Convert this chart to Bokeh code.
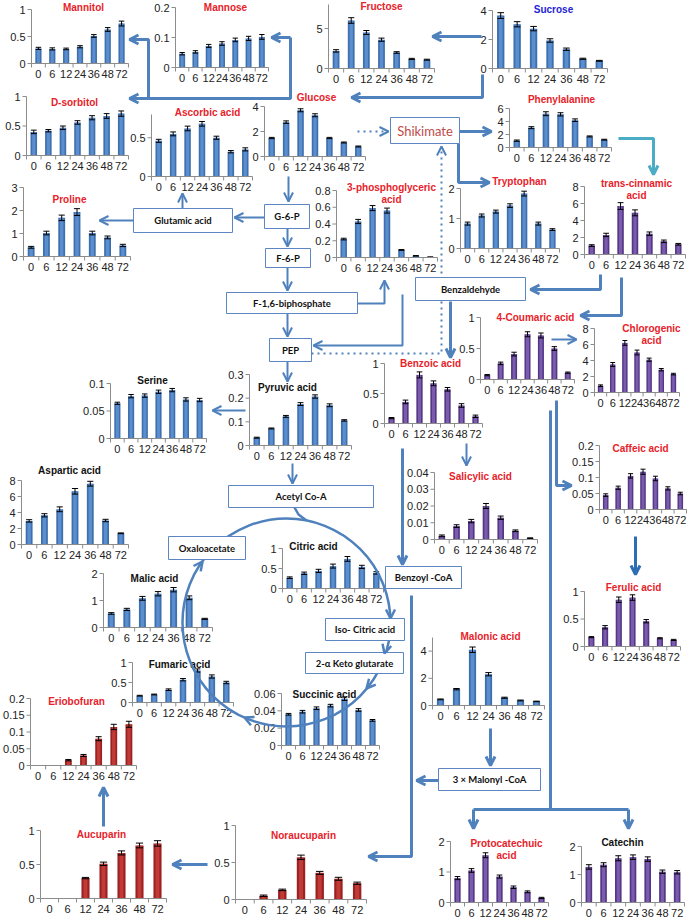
from bokeh.plotting import figure
from bokeh.models import Range1d, Arrow, OpenHead
from bokeh.embed import file_html
from bokeh.resources import INLINE
from bokeh.core.properties import value

# ---------------- data ----------------
times = ["0", "6", "12", "24", "36", "48", "72"]

mannitol = [0.28, 0.27, 0.27, 0.31, 0.51, 0.63, 0.74]
mannitol_err = [0.02, 0.02, 0.015, 0.02, 0.025, 0.035, 0.045]
mannose = [0.046, 0.052, 0.072, 0.080, 0.092, 0.097, 0.102]
mannose_err = [0.004, 0.004, 0.005, 0.006, 0.006, 0.007, 0.008]
fructose = [2.2, 6.0, 4.5, 3.6, 2.0, 1.2, 1.1]
fructose_err = [0.15, 0.35, 0.25, 0.2, 0.1, 0.07, 0.06]
sucrose = [3.65, 3.05, 2.75, 1.93, 1.33, 0.67, 0.53]
sucrose_err = [0.2, 0.18, 0.15, 0.12, 0.08, 0.04, 0.03]
sorbitol = [0.40, 0.42, 0.47, 0.56, 0.64, 0.67, 0.71]
sorbitol_err = [0.03, 0.02, 0.03, 0.03, 0.035, 0.04, 0.045]
ascorbic = [0.46, 0.55, 0.62, 0.68, 0.50, 0.32, 0.35]
ascorbic_err = [0.02, 0.025, 0.03, 0.03, 0.02, 0.015, 0.02]
glucose = [1.48, 2.75, 3.7, 3.3, 1.48, 1.12, 0.8]
glucose_err = [0.05, 0.1, 0.12, 0.12, 0.05, 0.04, 0.04]
phenylalanine = [1.05, 3.05, 5.2, 5.1, 4.2, 1.7, 1.2]
phenylalanine_err = [0.1, 0.15, 0.3, 0.25, 0.2, 0.08, 0.07]
proline = [0.40, 1.02, 1.68, 1.93, 1.02, 0.83, 0.48]
proline_err = [0.04, 0.08, 0.12, 0.15, 0.08, 0.06, 0.05]
pga = [0.22, 0.43, 0.59, 0.56, 0.09, 0.02, 0.005]
pga_err = [0.01, 0.025, 0.03, 0.03, 0.005, 0.003, 0.002]
tryptophan = [0.83, 1.1, 1.23, 1.43, 1.83, 0.83, 0.63]
tryptophan_err = [0.05, 0.05, 0.05, 0.06, 0.08, 0.05, 0.03]
cinnamic = [1.05, 2.3, 5.7, 4.9, 2.45, 1.55, 1.2]
cinnamic_err = [0.1, 0.2, 0.4, 0.35, 0.2, 0.15, 0.1]
serine = [0.064, 0.077, 0.078, 0.085, 0.088, 0.071, 0.070]
serine_err = [0.002, 0.003, 0.003, 0.003, 0.003, 0.003, 0.003]
pyruvic = [0.033, 0.072, 0.123, 0.175, 0.207, 0.170, 0.106]
pyruvic_err = [0.002, 0.002, 0.004, 0.006, 0.007, 0.006, 0.003]
benzoic = [0.09, 0.36, 0.81, 0.67, 0.57, 0.30, 0.12]
benzoic_err = [0.01, 0.03, 0.05, 0.04, 0.03, 0.03, 0.02]
coumaric = [0.07, 0.26, 0.41, 0.73, 0.71, 0.50, 0.11]
coumaric_err = [0.01, 0.02, 0.03, 0.04, 0.04, 0.03, 0.01]
chlorogenic = [0.85, 3.5, 6.2, 5.0, 4.1, 2.85, 2.3]
chlorogenic_err = [0.1, 0.25, 0.3, 0.3, 0.2, 0.15, 0.1]
salicylic = [0.0022, 0.008, 0.011, 0.020, 0.013, 0.0052, 0.0008]
salicylic_err = [0.0005, 0.0008, 0.001, 0.0015, 0.001, 0.0005, 0.0002]
caffeic = [0.045, 0.068, 0.105, 0.118, 0.097, 0.066, 0.050]
caffeic_err = [0.004, 0.005, 0.007, 0.008, 0.007, 0.005, 0.004]
ferulic = [0.17, 0.35, 0.85, 0.89, 0.46, 0.15, 0.12]
ferulic_err = [0.01, 0.03, 0.05, 0.05, 0.03, 0.01, 0.01]
aspartic = [2.95, 3.65, 4.4, 6.65, 7.6, 3.0, 1.4]
aspartic_err = [0.15, 0.2, 0.3, 0.35, 0.3, 0.15, 0.05]
malic = [0.52, 0.67, 1.08, 1.25, 1.40, 1.10, 0.32]
malic_err = [0.03, 0.04, 0.07, 0.08, 0.08, 0.07, 0.02]
citric = [0.27, 0.38, 0.44, 0.56, 0.74, 0.54, 0.39]
citric_err = [0.02, 0.03, 0.04, 0.05, 0.06, 0.04, 0.03]
fumaric = [0.17, 0.20, 0.32, 0.57, 0.80, 0.65, 0.50]
fumaric_err = [0.01, 0.01, 0.02, 0.03, 0.04, 0.04, 0.03]
succinic = [0.036, 0.039, 0.043, 0.046, 0.054, 0.041, 0.029]
succinic_err = [0.001, 0.0015, 0.0015, 0.0015, 0.002, 0.0015, 0.001]
malonic = [0.45, 1.2, 4.1, 2.3, 0.57, 0.37, 0.3]
malonic_err = [0.03, 0.05, 0.2, 0.12, 0.04, 0.03, 0.02]
eriobofuran = [0, 0, 0.016, 0.030, 0.080, 0.115, 0.123]
eriobofuran_err = [0, 0, 0.002, 0.003, 0.006, 0.008, 0.009]
aucuparin = [0, 0, 0.30, 0.51, 0.67, 0.78, 0.81]
aucuparin_err = [0, 0, 0.01, 0.025, 0.03, 0.035, 0.04]
noraucuparin = [0, 0.05, 0.13, 0.57, 0.36, 0.28, 0.22]
noraucuparin_err = [0, 0.01, 0.01, 0.03, 0.02, 0.02, 0.015]
protocatechuic = [0.80, 1.05, 1.55, 0.85, 0.50, 0.35, 0.15]
protocatechuic_err = [0.05, 0.06, 0.08, 0.05, 0.04, 0.03, 0.02]
catechin = [1.27, 1.35, 1.58, 1.62, 1.55, 1.10, 1.08]
catechin_err = [0.08, 0.07, 0.09, 0.08, 0.08, 0.06, 0.06]

# ---------------- styles ----------------
BLUE = ("#3F70AE", "#5B8ECF")
PURPLE = ("#553785", "#7A5CAE")
DRED = ("#9A2222", "#C23A36")
RED_T = "#E8222A"
BLUE_T = "#2424D6"
BLACK_T = "#111111"
AXIS = "#8C8C8C"
ARROW = "#4F81BD"
TEAL = "#4BACC6"
DBLUE = "#2E6DB4"
BOX = "#5B86C1"
FONT = value("Liberation Sans")
BFONT = value("Lato")
TICK_SIZE = "11px"

# layout of each mini chart (reference pixel coordinates)
# (title, title colour, bar colours, values, errors, ymax, ticks, x0, x1, ybase, ytop, title_x, title_y)
CHARTS = [
    ("Mannitol", RED_T, BLUE, mannitol, mannitol_err, 1, ["0", "0.5", "1"], 31, 128, 63, 9, 83, 7),
    ("Mannose", RED_T, BLUE, mannose, mannose_err, 0.2, ["0", "0.1", "0.2"], 175, 268, 67, 7, 225, 7),
    ("Fructose", RED_T, BLUE, fructose, fructose_err, 8, ["0", "5"], 328, 434, 68, 4, 381, 6),
    ("Sucrose", BLUE_T, BLUE, sucrose, sucrose_err, 4, ["0", "2", "4"], 492, 607, 68, 10, 553, 9),
    ("D-sorbitol", RED_T, BLUE, sorbitol, sorbitol_err, 1, ["0", "0.5", "1"], 26, 128, 155, 96, 74, 102),
    ("Ascorbic acid", RED_T, BLUE, ascorbic, ascorbic_err, 0.8, ["0", "0.5"], 151, 252, 176, 114, 207, 112),
    ("Glucose", RED_T, BLUE, glucose, glucose_err, 4, ["0", "2", "4"], 264, 365, 156, 106, 316, 97),
    ("Phenylalanine", RED_T, BLUE, phenylalanine, phenylalanine_err, 6, ["0", "2", "4", "6"], 509, 611, 147, 108, 561, 99),
    ("Proline", RED_T, BLUE, proline, proline_err, 3, ["0", "1", "2", "3"], 23, 130, 256, 187, 69, 199),
    ("3-phosphoglyceric\nacid", RED_T, BLUE, pga, pga_err, 0.8, ["0", "0.2", "0.4", "0.6", "0.8"], 336, 437, 257, 190, 391, 187),
    ("Tryptophan", RED_T, BLUE, tryptophan, tryptophan_err, 2, ["0", "1", "2"], 460, 559, 248, 188, 519, 181),
    ("trans-cinnamic\nacid", RED_T, PURPLE, cinnamic, cinnamic_err, 8, ["0", "2", "4", "6", "8"], 584, 685, 254, 186, 636, 183),
    ("Serine", BLACK_T, BLUE, serine, serine_err, 0.1, ["0", "0.05", "0.1"], 110, 206, 438, 383, 152, 380),
    ("Pyruvic acid", BLACK_T, BLUE, pyruvic, pyruvic_err, 0.3, ["0", "0.1", "0.2", "0.3"], 249, 351, 445, 374, 287, 387),
    ("Benzoic acid", RED_T, PURPLE, benzoic, benzoic_err, 1, ["0", "0.5", "1"], 384, 482, 423, 363, 430, 363),
    ("4-Coumaric acid", RED_T, PURPLE, coumaric, coumaric_err, 1, ["0", "0.5", "1"], 480, 574, 379, 317, 535, 317),
    ("Chlorogenic\nacid", RED_T, PURPLE, chlorogenic, chlorogenic_err, 8, ["0", "2", "4", "6", "8"], 594, 679, 392, 328, 651, 328),
    ("Salicylic acid", RED_T, PURPLE, salicylic, salicylic_err, 0.04, ["0", "0.01", "0.02", "0.03", "0.04"], 434, 537, 539, 472, 480, 476),
    ("Caffeic acid", RED_T, PURPLE, caffeic, caffeic_err, 0.2, ["0", "0.05", "0.1", "0.15", "0.2"], 599, 686, 509, 445, 640, 448),
    ("Ferulic acid", RED_T, PURPLE, ferulic, ferulic_err, 1, ["0", "0.5", "1"], 584, 680, 646, 591, 633, 587),
    ("Aspartic acid", BLACK_T, BLUE, aspartic, aspartic_err, 8, ["0", "2", "4", "6", "8"], 21, 128, 544, 480, 69, 470),
    ("Malic acid", BLACK_T, BLUE, malic, malic_err, 2, ["0", "1", "2"], 103, 212, 627, 573, 154, 578),
    ("Citric acid", BLACK_T, BLUE, citric, citric_err, 1, ["0", "0.5", "1"], 282, 383, 588, 548, 313, 546),
    ("Fumaric acid", BLACK_T, BLUE, fumaric, fumaric_err, 1, ["0", "0.5", "1"], 132, 233, 702, 662, 179, 664),
    ("Succinic acid", BLACK_T, BLUE, succinic, succinic_err, 0.06, ["0", "0.02", "0.04", "0.06"], 281, 379, 745, 693, 324, 694),
    ("Malonic acid", RED_T, BLUE, malonic, malonic_err, 5, ["0", "2", "4"], 432, 544, 705, 637, 490, 636),
    ("Eriobofuran", RED_T, DRED, eriobofuran, eriobofuran_err, 0.2, ["0", "0.05", "0.1", "0.15", "0.2"], 30, 136, 765, 698, 76, 701),
    ("Aucuparin", RED_T, DRED, aucuparin, aucuparin_err, 1, ["0", "0.5", "1"], 40, 166, 898, 830, 101, 834),
    ("Noraucuparin", RED_T, DRED, noraucuparin, noraucuparin_err, 1, ["0", "0.5", "1"], 235, 366, 899, 825, 303, 835),
    ("Protocatechuic\nacid", RED_T, PURPLE, protocatechuic, protocatechuic_err, 2, ["0", "1", "2"], 450, 548, 902, 841, 506, 843),
    ("Catechin", BLACK_T, PURPLE, catechin, catechin_err, 2, ["0", "1", "2"], 581, 684, 902, 846, 622, 842),
]

# ---------------- figure ----------------
p = figure(width=688, height=919, x_range=Range1d(0, 688), y_range=Range1d(919, 0),
           output_backend="svg", toolbar_location=None, x_axis_type=None, y_axis_type=None,
           min_border=0, outline_line_color=None, background_fill_color="white")


def draw_chart(title, tcol, bcol, vals, errs, ymax, ticks, x0, x1, yb, yt, tx, ty):
    n = len(vals)
    sub = p.subplot(x_source=Range1d(0, n), y_source=Range1d(0, ymax),
                    x_target=Range1d(x0, x1), y_target=Range1d(yb, yt))
    vpp = ymax / (yb - yt)      # value per pixel
    cpp = n / (x1 - x0)         # category per pixel
    xs = [i + 0.5 for i in range(n)]
    sub.vbar(x=xs, top=vals, width=0.45, fill_color=bcol[0], line_color=None)
    sub.vbar(x=xs, top=vals, width=0.22, fill_color=bcol[1], line_color=None)
    nz = [i for i in range(n) if vals[i] > 0]
    ex = [xs[i] for i in nz]
    lo = [vals[i] - errs[i] for i in nz]
    hi = [vals[i] + errs[i] for i in nz]
    sub.segment(x0=ex, y0=lo, x1=ex, y1=hi, line_color="black", line_width=1)
    cw = 0.2
    sub.segment(x0=[x - cw for x in ex], y0=hi, x1=[x + cw for x in ex], y1=hi, line_color="black", line_width=1)
    sub.segment(x0=[x - cw for x in ex], y0=lo, x1=[x + cw for x in ex], y1=lo, line_color="black", line_width=1)
    # axes
    sub.segment(x0=[0, 0], y0=[0, 0], x1=[0, n], y1=[ymax, 0], line_color=AXIS, line_width=1)
    kk = list(range(n + 1))
    sub.segment(x0=kk, y0=[0] * len(kk), x1=kk, y1=[-4 * vpp] * len(kk), line_color=AXIS, line_width=1)
    tv = [float(t) for t in ticks]
    sub.segment(x0=[-4 * cpp] * len(tv), y0=tv, x1=[0] * len(tv), y1=tv, line_color=AXIS, line_width=1)
    sub.text(x=[0] * len(tv), y=tv, text=ticks, x_offset=-6, text_align="right", text_baseline="middle",
             text_font=FONT, text_font_size=TICK_SIZE, text_color="#222222")
    sub.text(x=xs, y=[0] * n, text=times, y_offset=6, text_align="center", text_baseline="top",
             text_font=FONT, text_font_size=TICK_SIZE, text_color="#222222")
    lines = title.split("\n")
    p.text(x=[tx] * len(lines), y=[ty + 11.5 * i for i in range(len(lines))], text=lines,
           text_align="center", text_baseline="middle", text_font=FONT, text_font_style="bold",
           text_font_size="10px", text_color=tcol)


for c in CHARTS:
    draw_chart(*c)


def path(pts, color=ARROW, width=3, dash="solid", head=True):
    p.line([q[0] for q in pts], [q[1] for q in pts], line_color=color, line_width=width, line_dash=dash)
    if head:
        (xa, ya), (xb, yb) = pts[-2], pts[-1]
        p.add_layout(Arrow(end=OpenHead(size=9, line_color=color, line_width=width), line_alpha=0,
                           x_start=xa, y_start=ya, x_end=xb, y_end=yb))


# arrows (reference pixel coordinates)
path([(481, 36), (432, 36)])
path([(290, 37), (271, 37)])
path([(290, 37), (290, 98), (129, 98)])
path([(148, 98), (148, 39), (129, 39)])
path([(482, 74), (482, 97), (351, 97)])
path([(357, 131), (388, 131)], width=2, dash="dotted")
path([(459, 131), (491, 131)])
path([(458, 143), (458, 182), (489, 182)])
path([(618, 138), (653, 138), (653, 174)], color=TEAL)
path([(600, 274), (600, 289), (530, 289)])
path([(621, 277), (621, 315), (580, 315)])
path([(551, 339), (576, 339)], width=2)
path([(450, 301), (450, 357)])
path([(357, 303), (384, 303), (384, 280)], width=2)
path([(402, 294), (402, 345), (313, 345)], width=2)
path([(311, 353), (441, 353), (441, 146)], width=2, dash="dotted")
path([(288, 176), (288, 201)], width=2)
path([(264, 217), (234, 217)], width=2)
path([(133, 220), (99, 220)], width=2)
path([(182, 208), (182, 193)], width=2)
path([(287, 228), (287, 246)], width=2)
path([(287, 267), (287, 290)], width=2)
path([(287, 313), (287, 336)], width=2)
path([(287, 361), (287, 381)], width=2)
path([(245, 410), (212, 410)], width=2)
path([(292, 463), (292, 483)], width=2)
path([(466, 443), (466, 465)], width=2)
path([(402, 448), (402, 564)])
path([(411, 595), (411, 856), (368, 856)])
path([(438, 780), (416, 780)])
path([(490, 728), (490, 765)])
path([(556, 400), (556, 485), (571, 485)])
path([(550, 410), (550, 809)], head=False)
path([(473, 809), (628, 809)], head=False)
path([(473, 809), (473, 828)])
path([(628, 809), (628, 828)])
path([(635, 536), (635, 574)], color=DBLUE)
path([(207, 864), (172, 864)])
path([(103, 826), (103, 787)])
path([(294, 507), (298, 514), (306, 520)], width=2.5, head=False)

# TCA cycle circle
p.circle(x=[286], y=[622], radius=104, fill_color=None, line_color=ARROW, line_width=2.5)
for (xa, ya, xb, yb) in [(390, 606, 390, 618), (387, 642, 384, 653), (373, 680, 366, 688),
                         (253, 721, 244, 717), (196, 569, 202, 561)]:
    p.add_layout(Arrow(end=OpenHead(size=9, line_color=ARROW, line_width=2.5), line_alpha=0,
                       x_start=xa, y_start=ya, x_end=xb, y_end=yb))

# boxes: (x0, x1, y0, y1, text)
BOXES = [
    (390, 459, 117, 143, "Shikimate"),
    (133, 232, 208, 232, "Glutamic acid"),
    (264, 309, 204, 228, "G-6-P"),
    (265, 310, 248, 267, "F-6-P"),
    (226, 357, 292, 313, "F-1,6-biphosphate"),
    (269, 311, 338, 361, "PEP"),
    (415, 525, 277, 300, "Benzaldehyde"),
    (228, 373, 485, 507, "Acetyl Co-A"),
    (168, 245, 536, 559, "Oxaloacetate"),
    (385, 461, 566, 588, "Benzoyl -CoA"),
    (325, 404, 618, 640, "Iso- Citric acid"),
    (305, 403, 652, 673, "2-\u03b1 Keto glutarate"),
    (438, 540, 768, 790, "3 \u00d7 Malonyl -CoA"),
]
bx0 = [b[0] for b in BOXES]
bx1 = [b[1] for b in BOXES]
by0 = [b[2] for b in BOXES]
by1 = [b[3] for b in BOXES]
p.quad(left=bx0, right=bx1, top=by0, bottom=by1, fill_color="white", line_color=BOX, line_width=1)
for b in BOXES:
    if b[4] == "Shikimate":
        p.text(x=[(b[0] + b[1]) / 2], y=[(b[2] + b[3]) / 2], text=[b[4]], text_align="center",
               text_baseline="middle", text_font=BFONT, text_font_size="13px", text_color="#BE4B48")
    else:
        p.text(x=[(b[0] + b[1]) / 2], y=[(b[2] + b[3]) / 2], text=[b[4]], text_align="center",
               text_baseline="middle", text_font=BFONT, text_font_style="bold",
               text_font_size="9.5px", text_color="#111111")

open("out.html", "w").write(file_html(p, INLINE))
